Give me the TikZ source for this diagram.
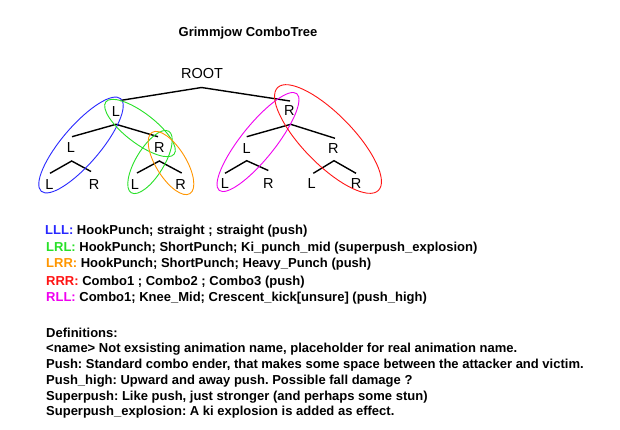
\documentclass[tikz,border=0pt]{standalone}
\usepackage{fontspec}
\setmainfont{Liberation Sans}
\frenchspacing
\definecolor{cblue}{RGB}{40,40,255}
\definecolor{cgreen}{RGB}{40,225,40}
\definecolor{corange}{RGB}{255,150,0}
\definecolor{cred}{RGB}{255,20,20}
\definecolor{cmag}{RGB}{240,0,240}
\begin{document}
\begin{tikzpicture}[x=1pt,y=-1pt,
  lbl/.style={inner sep=0pt,font=\fontsize{14.5}{16}\selectfont},
  txt/.style={inner sep=0pt,anchor=base west,font=\bfseries\fontsize{13}{15}\selectfont\frenchspacing},
  branch/.style={line width=1.4pt,black},
  ring/.style={line width=0.9pt}]
\fill[white] (0,0) rectangle (620,429);
\useasboundingbox (0,0) rectangle (620,429);

\node[inner sep=0pt,anchor=base,font=\bfseries\fontsize{13}{15}\selectfont] (title) at (248,36) {Grimmjow ComboTree};

% tree labels
\node[lbl] (root) at (202,73.3) {ROOT};
\node[lbl] (nL) at (116,112) {L};
\node[lbl] (nLL) at (71,147.5) {L};
\node[lbl] (nLR) at (159.3,147.5) {R};
\node[lbl] (nLLL) at (49.3,184.3) {L};
\node[lbl] (nLLR) at (94,184.3) {R};
\node[lbl] (nLRL) at (135,184.3) {L};
\node[lbl] (nLRR) at (180.7,184.3) {R};
\node[lbl] (nR) at (289.3,111) {R};
\node[lbl] (nRL) at (246.7,148.3) {L};
\node[lbl] (nRR) at (333.3,148.3) {R};
\node[lbl] (nRLL) at (225,184) {L};
\node[lbl] (nRLR) at (268.3,184) {R};
\node[lbl] (nRRL) at (311.7,184) {L};
\node[lbl] (nRRR) at (356,184) {R};

% branch coordinates
\coordinate (a0) at (201.5,87.5);
\coordinate (a0l) at (120,100.5);
\coordinate (a0r) at (290,101);
\coordinate (a1) at (116,124.3);
\coordinate (a1l) at (72,136.7);
\coordinate (a1r) at (158,136.7);
\coordinate (a2) at (71.7,161);
\coordinate (a2l) at (50,173.3);
\coordinate (a2r) at (91,171.5);
\coordinate (a3) at (159.3,161);
\coordinate (a3l) at (137,173);
\coordinate (a3r) at (181.7,173);
\coordinate (a4) at (290.7,124.3);
\coordinate (a4l) at (246.7,136.7);
\coordinate (a4r) at (335,138.3);
\coordinate (a5) at (246.7,160.7);
\coordinate (a5l) at (225,173.3);
\coordinate (a5r) at (268.3,170.5);
\coordinate (a6) at (334,160.7);
\coordinate (a6l) at (313.3,173.3);
\coordinate (a6r) at (356,173.3);

\draw[branch] (a0l) -- (a0) -- (a0r);
\draw[branch] (a1l) -- (a1) -- (a1r);
\draw[branch] (a2l) -- (a2) -- (a2r);
\draw[branch] (a3l) -- (a3) -- (a3r);
\draw[branch] (a4l) -- (a4) -- (a4r);
\draw[branch] (a5l) -- (a5) -- (a5r);
\draw[branch] (a6l) -- (a6) -- (a6r);

% ellipses
\draw[ring,cblue,rotate around={49.4:(81,145)}] (81,145) ellipse [x radius=61, y radius=19];
\draw[ring,cgreen,rotate around={-37.4:(140,128)}] (140,128) ellipse [x radius=43, y radius=15];
\draw[ring,cgreen,rotate around={58.6:(150,162)}] (150,162) ellipse [x radius=36, y radius=14];
\draw[ring,corange,rotate around={-58.3:(171,163)}] (171,163) ellipse [x radius=36, y radius=15];
\draw[ring,cmag,rotate around={51.3:(258,142)}] (258,142) ellipse [x radius=62, y radius=17];
\draw[ring,cred,rotate around={-45.6:(328,139)}] (328,139) ellipse [x radius=72, y radius=25];

% legend
\node[txt] (l1) at (45,234) {\textcolor{cblue}{LLL:} HookPunch; straight ; straight (push)};
\node[txt] (l2) at (46,251.3) {\textcolor{cgreen}{LRL:} HookPunch; ShortPunch; Ki\_punch\_mid (superpush\_explosion)};
\node[txt] (l3) at (46,267.5) {\textcolor{corange}{LRR:} HookPunch; ShortPunch; Heavy\_Punch (push)};
\node[txt] (l4) at (46,285) {\textcolor{cred}{RRR:} Combo1 ; Combo2 ; Combo3 (push)};
\node[txt] (l5) at (46,301) {\textcolor{cmag}{RLL:} Combo1; Knee\_Mid; Crescent\_kick[unsure] (push\_high)};

% definitions
\node[txt] (d0) at (46,337) {Definitions:};
\node[txt] (d1) at (46,352.5) {<name> Not exsisting animation name, placeholder for real animation name.};
\node[txt] (d2) at (46,368) {Push: Standard combo ender, that makes some space between the attacker and victim.};
\node[txt] (d3) at (46,384.5) {Push\_high: Upward and away push. Possible fall damage ?};
\node[txt] (d4) at (46,400) {Superpush: Like push, just stronger (and perhaps some stun)};
\node[txt] (d5) at (46,415.5) {Superpush\_explosion: A ki explosion is added as effect.};
\end{tikzpicture}
\end{document}
